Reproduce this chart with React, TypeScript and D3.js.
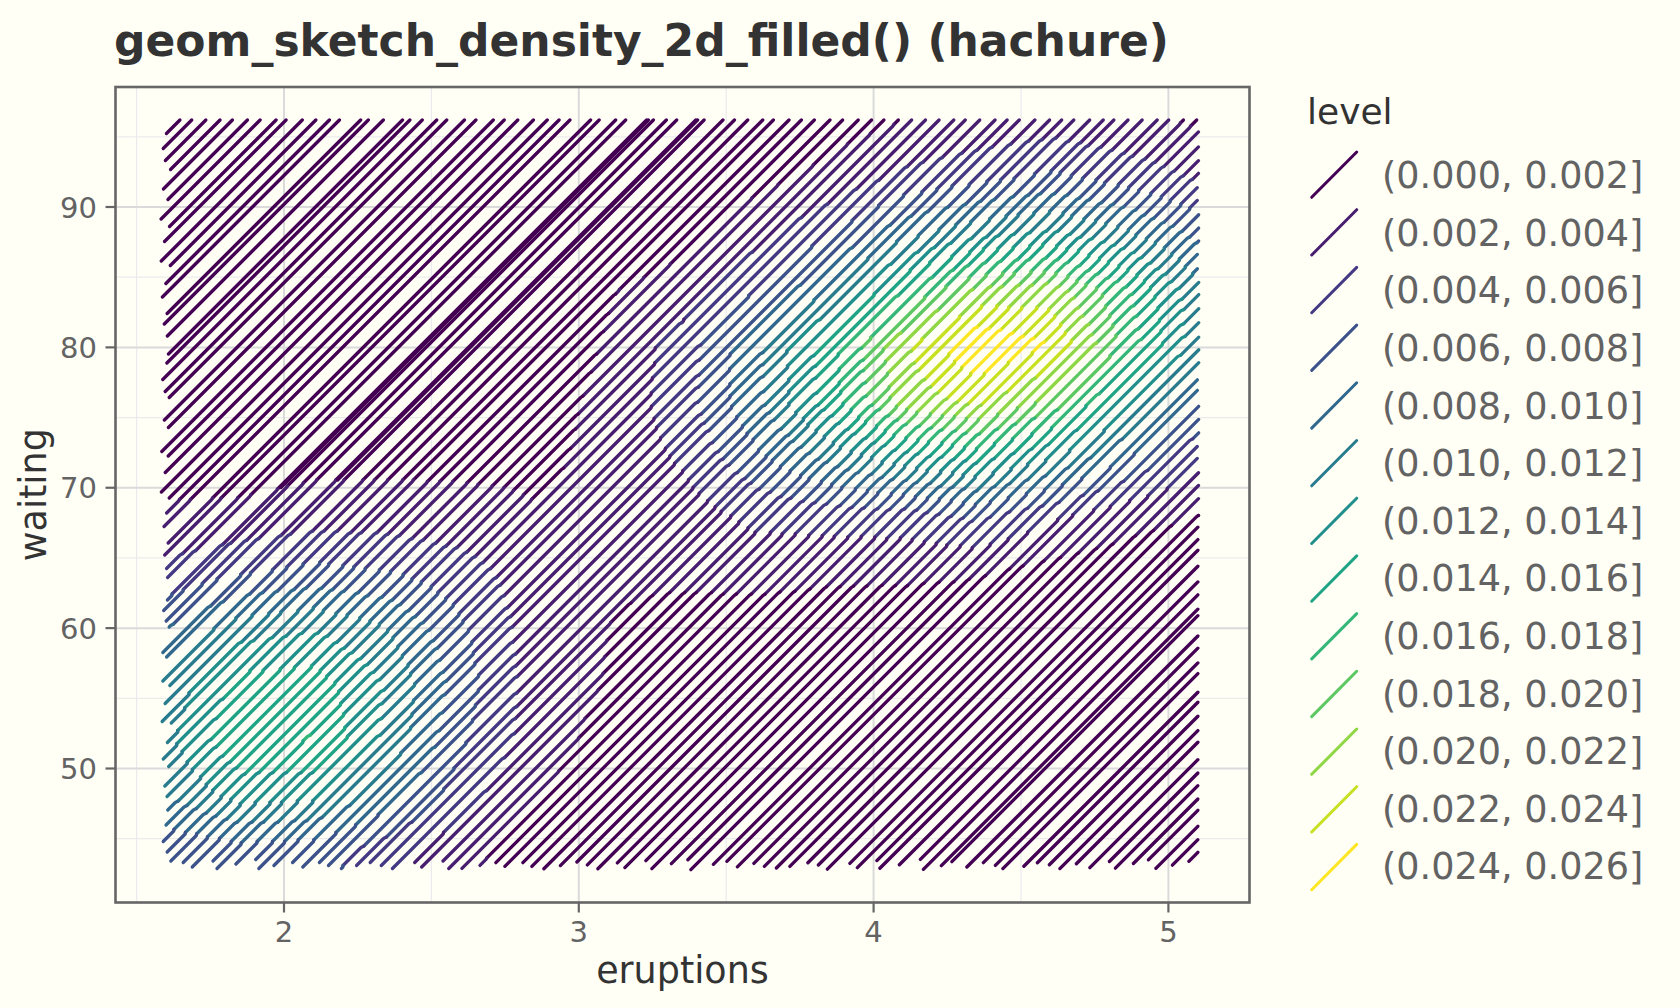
import React from "react";
import * as d3 from "d3";

// ---------- data ----------
const levelLabels = ["(0.000, 0.002]","(0.002, 0.004]","(0.004, 0.006]","(0.006, 0.008]","(0.008, 0.010]","(0.010, 0.012]","(0.012, 0.014]","(0.014, 0.016]","(0.016, 0.018]","(0.018, 0.020]","(0.020, 0.022]","(0.022, 0.024]","(0.024, 0.026]"];
const levelColors = ["#440154","#481F70","#443A83","#3B528B","#31688E","#287C8E","#21908C","#20A486","#35B779","#5DC863","#8FD744","#C7E020","#FDE725"];
const xTicks = [2,3,4,5];
const yTicks = [50,60,70,80,90];
const xMinor = [1.5,2.5,3.5,4.5];
const yMinor = [45,55,65,75,85,95];

// estimated density (x 1000) on a coarse grid
const gridEruptions = [1.6,1.85,2.1,2.35,2.6,2.85,3.1,3.35,3.6,3.85,4.1,4.35,4.6,4.85,5.1];
const gridWaiting = [96,92,88,84,80,76,72,68,64,60,56,52,48,44];
const density = [
  [0,0,0,0,0,.02,.05,.18,.5,1.1,2,2.5,3,2.4,1.8],
  [0,0,0,0,.01,.05,.17,.56,1.4,2.6,4.5,5.5,6.5,5.3,3.8],
  [0,0,0,0,.03,.13,.5,1.5,3.3,5.8,9.5,11.5,12.5,10.5,7.5],
  [.01,.02,.02,.03,.09,.4,1.9,2.75,6,10,16,20.5,21,16.5,10.5],
  [.05,.09,.12,.17,.24,.9,2.2,5,9.6,15.3,21.7,26,24,17.5,10.8],
  [.23,.38,.47,.52,.63,1.4,2.4,5.2,9.5,15,21,22.4,19.4,13,8],
  [.7,.9,1.4,1.4,1.5,1.7,2.4,4.3,7.5,10.5,13,14.5,12,8,4.3],
  [2.5,2.5,3,3,2.7,2.1,2.3,3,4.6,5,5.2,6.5,4.4,2.8,2],
  [4.4,5.7,6.6,6,4.8,2.9,2.2,2.4,2.6,2.3,2.3,2.2,1.3,.9,.5],
  [8,11,11.8,10,6.3,2.9,2,1.3,1.16,1.18,1.1,.8,.48,.23,.09],
  [10.5,14.8,15,11.8,7,3,1.9,.67,.35,.29,.24,.18,.1,.04,.02],
  [11.5,15.8,16.1,11.5,6.3,3,1.3,.4,.1,.06,.04,.03,.02,0,0],
  [10,12.8,12.5,9,4.8,2,.85,.21,.02,.01,0,0,0,0,0],
  [6.3,7,6.8,4.8,2.5,1,.4,.08,0,0,0,0,0,0,0],
];

// eruptions value where each hachure stroke reaches the top of the hatched area
const hatchTopEruptions = [1.647,1.687,1.735,1.783,1.825,1.876,1.919,1.973,2.007,2.062,2.108,2.154,2.188,2.26,2.286,2.337,2.402,2.427,2.469,2.518,2.552,2.612,2.651,2.71,2.747,2.793,2.846,2.893,2.933,2.97,3.04,3.069,3.125,3.159,3.23,3.253,3.297,3.332,3.397,3.425,3.489,3.528,3.573,3.624,3.66,3.713,3.755,3.799,3.852,3.895,3.948,3.993,4.035,4.084,4.127,4.174,4.22,4.27,4.309,4.358,4.41,4.451,4.492,4.545,4.595,4.636,4.677,4.731,4.777,4.813,4.861,4.909,4.96,4.999,5.051,5.096];
// strokes that nearly overlap a neighbour; they only exist in the lowest band
const hatchOverlapEruptions = [3.236,3.403];
// waiting value where each remaining stroke reaches the right of the hatched area
const hatchRightWaiting = [95.35,94.28,93.3,92.4,91.38,90.47,89.45,88.5,87.58,86.62,85.6,84.63,83.76,82.76,81.76,80.73,79.83,78.91,77.69,76.94,75.8,74.87,73.91,72.94,72.09,71.07,70.16,69.22,68.03,67.19,66.31,65.55,64.41,63.29,62.37,61.35,60.89,59.44,58.57,57.52,56.76,55.43,54.72,53.72,52.7,51.87,50.63,49.68,48.78,47.83,47.02,45.88,44.93,44.03];
// each band was hatched on its own, so its strokes sit slightly off the others
const bandShift = [0,.6,-.6,.8,-.5,.9,-.8,.5,-.9,.6,-.5,.8,-.6];
const strokeStartTrim = [0,4,1,-3,3,-1,5,-2,2,6,-3,1,4,-1,3,0,-2];

// ---------- layout ----------
const W = 1680, H = 1008;
const panel = { left: 115.5, right: 1249.5, top: 87, bottom: 902.5 };
const ink = "#333333", grey = "#636363", font = "'DejaVu Sans', sans-serif";

const x = d3.scaleLinear().domain([2, 5]).range([284, 1168.4]);
const y = d3.scaleLinear().domain([50, 90]).range([768.5, 207]);
const topWaiting = 96.2, rightEruptions = 5.1, leftEruptions = 1.6, bottomWaiting = 43;

const xi = d3.scaleLinear().domain(gridEruptions).range(gridEruptions.map((_, i) => i)).clamp(true);
const yi = d3.scaleLinear().domain(gridWaiting).range(gridWaiting.map((_, i) => i)).clamp(true);
function bandAt(px: number, py: number) {
  const fx = xi(x.invert(px)), fy = yi(y.invert(py));
  const i = Math.min(Math.floor(fx), gridEruptions.length - 2), j = Math.min(Math.floor(fy), gridWaiting.length - 2);
  const u = fx - i, v = fy - j;
  const d = (density[j][i] * (1 - u) + density[j][i + 1] * u) * (1 - v) + (density[j + 1][i] * (1 - u) + density[j + 1][i + 1] * u) * v;
  return Math.max(0, Math.min(levelColors.length - 1, Math.floor(d / 2)));
}

const anchors = [
  ...hatchTopEruptions.map((e) => ({ ax: x(e), ay: y(topWaiting), lowestOnly: false })),
  ...hatchOverlapEruptions.map((e) => ({ ax: x(e), ay: y(topWaiting), lowestOnly: true })),
  ...hatchRightWaiting.map((w) => ({ ax: x(rightEruptions), ay: y(w), lowestOnly: false })),
];

type Seg = { band: number; pts: [number, number][] };
function buildSegments(): Seg[] {
  const segs: Seg[] = [];
  const minX = x(leftEruptions), maxY = y(bottomWaiting);
  anchors.forEach(({ ax, ay, lowestOnly }, k) => {
    const trim = strokeStartTrim[k % strokeStartTrim.length];
    let cur: Seg | null = null;
    for (let t = 0; ; t += 1.5) {
      const px = ax - t, py = ay + t;
      if (px < minX - trim || py > maxY - trim) break;
      const b = bandAt(px, py);
      if (lowestOnly && b !== 0) break;
      if (!cur || cur.band !== b) {
        const last = cur ? cur.pts[cur.pts.length - 1] : null;
        cur = { band: b, pts: last ? [last] : [] };
        segs.push(cur);
      }
      cur.pts.push([px + bandShift[b], py]);
    }
  });
  return segs;
}
const path = d3.line<[number, number]>().x((d) => d[0]).y((d) => d[1]);

export default function App() {
  const segs = buildSegments();
  return (
    <svg width={W} height={H} viewBox={`0 0 ${W} ${H}`} style={{ position: "absolute", left: 0, top: 0, background: "#FFFFF6" }} fontFamily={font}>
      <rect width={W} height={H} fill="#FFFFF6" />
      {/* grid */}
      {xMinor.map((t) => <line key={"xm" + t} x1={x(t)} x2={x(t)} y1={panel.top} y2={panel.bottom} stroke="#EBEBEE" strokeWidth={1.3} />)}
      {yMinor.map((t) => <line key={"ym" + t} x1={panel.left} x2={panel.right} y1={y(t)} y2={y(t)} stroke="#EBEBEB" strokeWidth={1.3} />)}
      {xTicks.map((t) => <line key={"xg" + t} x1={x(t)} x2={x(t)} y1={panel.top} y2={panel.bottom} stroke="#DADADA" strokeWidth={2} />)}
      {yTicks.map((t) => <line key={"yg" + t} x1={panel.left} x2={panel.right} y1={y(t)} y2={y(t)} stroke="#DADADA" strokeWidth={2} />)}
      {/* hachure */}
      <g fill="none" strokeWidth={3.3} strokeLinecap="round" strokeLinejoin="round">
        {segs.map((s, i) => <path key={i} d={path(s.pts.length > 1 ? s.pts : [s.pts[0], s.pts[0]]) || ""} stroke={levelColors[s.band]} />)}
      </g>
      {/* frame & ticks */}
      <rect x={panel.left} y={panel.top} width={panel.right - panel.left} height={panel.bottom - panel.top} fill="none" stroke="#666666" strokeWidth={2.6} />
      {xTicks.map((t) => (
        <g key={"xt" + t}>
          <line x1={x(t)} x2={x(t)} y1={panel.bottom} y2={panel.bottom + 10} stroke="#666666" strokeWidth={2.2} />
          <text x={x(t)} y={941.5} textAnchor="middle" fontSize={29} fill={grey}>{t}</text>
        </g>
      ))}
      {yTicks.map((t) => (
        <g key={"yt" + t}>
          <line x1={panel.left - 10} x2={panel.left} y1={y(t)} y2={y(t)} stroke="#666666" strokeWidth={2.2} />
          <text x={97} y={y(t) + 10.5} textAnchor="end" fontSize={29} fill={grey}>{t}</text>
        </g>
      ))}
      {/* titles */}
      <text x={114} y={55.5} fontSize={44} fontWeight="bold" fill={ink}>geom_sketch_density_2d_filled() (hachure)</text>
      <text x={682.5} y={983} textAnchor="middle" fontSize={36.5} fill={ink}>eruptions</text>
      <text transform={`translate(46,${(panel.top + panel.bottom) / 2}) rotate(-90)`} textAnchor="middle" fontSize={36.5} fill={ink}>waiting</text>
      {/* legend */}
      <text x={1307} y={124} fontSize={36} fill={ink}>level</text>
      {levelLabels.map((lab, i) => {
        const oy = i * 57.7;
        return (
          <g key={lab}>
            <line x1={1311.7} y1={197.3 + oy} x2={1356.7} y2={152 + oy} stroke={levelColors[i]} strokeWidth={3} strokeLinecap="round" />
            <text x={1382} y={188.2 + i * 57.6} fontSize={36.6} fill={grey}>{lab}</text>
          </g>
        );
      })}
    </svg>
  );
}
